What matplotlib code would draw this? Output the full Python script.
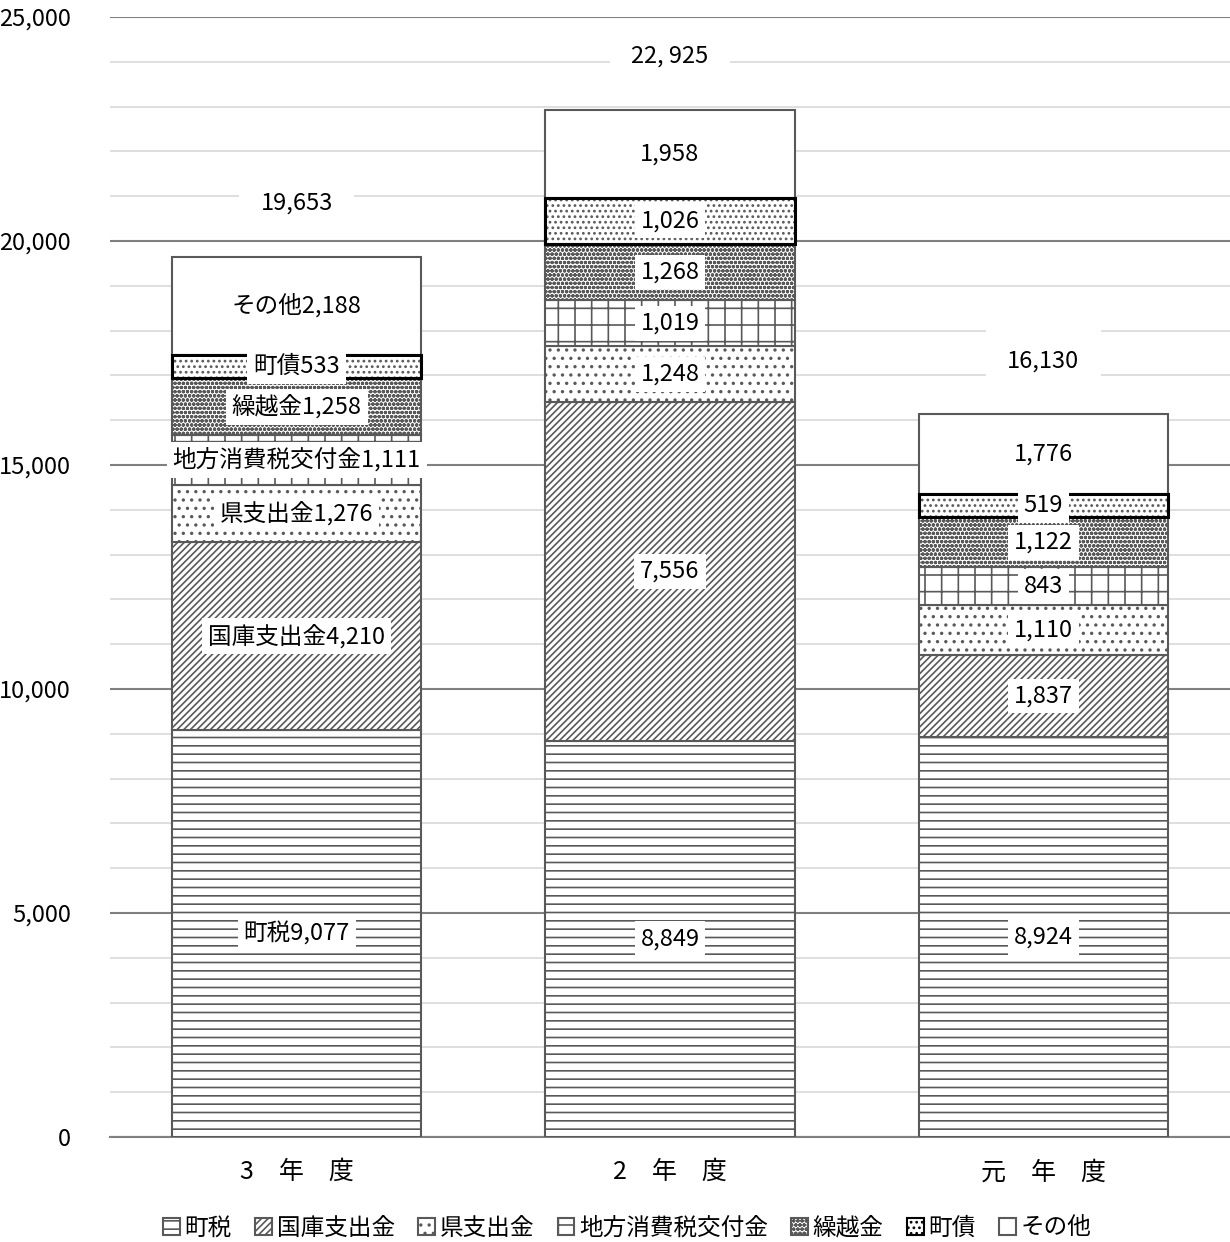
import numpy as np
import matplotlib.pyplot as plt
from matplotlib.patches import Patch

plt.rcParams['font.family'] = ['Noto Sans CJK JP', 'DejaVu Sans']
plt.rcParams['hatch.linewidth'] = 1.2

# data
years = ['3　年　度', '2　年　度', '元　年　度']
items = ['町税', '国庫支出金', '県支出金', '地方消費税交付金', '繰越金', '町債', 'その他']
tax = [9077, 8849, 8924]
national = [4210, 7556, 1837]
prefecture = [1276, 1248, 1110]
consumption = [1111, 1019, 843]
carryover = [1258, 1268, 1122]
bond = [533, 1026, 519]
other = [2188, 1958, 1776]
totals = [19653, 22925, 16130]
total_labels = ['19,653', '22, 925', '16,130']

series = [tax, national, prefecture, consumption, carryover, bond, other]
hatches = ['--', '/////', '..', '+', 'oooo', '...', '']
edge = '#595959'

fig = plt.figure(figsize=(12.3, 12.42), dpi=100)
ax = fig.add_axes([110 / 1230, 1 - 1137 / 1242, 1 - 110 / 1230, (1137 - 17) / 1242])

x = np.arange(len(years))
w = 0.667
bottom = np.zeros(len(years))
for k, vals in enumerate(series):
    vals = np.array(vals)
    ax.bar(x, vals, w, bottom=bottom, color='white', edgecolor=edge,
           hatch=hatches[k], linewidth=1.5, zorder=3)
    if items[k] == '町債':
        ax.bar(x, vals, w, bottom=bottom, fill=False, edgecolor='black',
               linewidth=2.2, zorder=4)
    for i in range(len(years)):
        txt = f'{vals[i]:,}'
        if i == 0:
            txt = items[k] + txt
        ax.text(x[i], bottom[i] + vals[i] / 2, txt, ha='center', va='center',
                fontsize=17, zorder=5,
                bbox=dict(boxstyle='square,pad=0.25', fc='white', ec='none'))
    bottom += vals

for i in range(len(years)):
    ax.text(x[i], totals[i] + 1200, total_labels[i], ha='center', va='center',
            fontsize=17, zorder=5,
            bbox=dict(boxstyle='square,pad=0.9', fc='white', ec='none'))

ax.set_xlim(-0.5, 2.5)
ax.set_ylim(0, 25000)
ax.set_yticks(np.arange(0, 25001, 5000))
ax.set_yticklabels([f'{v:,}' for v in range(0, 25001, 5000)], fontsize=17)
ax.set_yticks(np.arange(0, 25001, 1000), minor=True)
ax.grid(axis='y', which='major', color='#808080', linewidth=1.5, zorder=0)
ax.grid(axis='y', which='minor', color='#d9d9d9', linewidth=1.2, zorder=0)
ax.tick_params(axis='y', which='both', length=0, pad=28)
ax.set_xticks(x)
ax.set_xticklabels(years, fontsize=18)
ax.tick_params(axis='x', length=0, pad=16)
for s in ['top', 'right', 'left']:
    ax.spines[s].set_visible(False)
ax.spines['bottom'].set_color('#808080')
ax.spines['bottom'].set_linewidth(1.5)

handles = [Patch(facecolor='white', edgecolor=('black' if n == '町債' else edge),
                 hatch=h, linewidth=1.5, label=n) for n, h in zip(items, hatches)]
fig.legend(handles=handles, loc='center', bbox_to_anchor=(0.51, 1 - 1228 / 1242),
           ncol=7, frameon=False, fontsize=17, handlelength=0.7, handleheight=0.7,
           handletextpad=0.2, columnspacing=1.0)

fig.savefig('out.png', dpi=100)
